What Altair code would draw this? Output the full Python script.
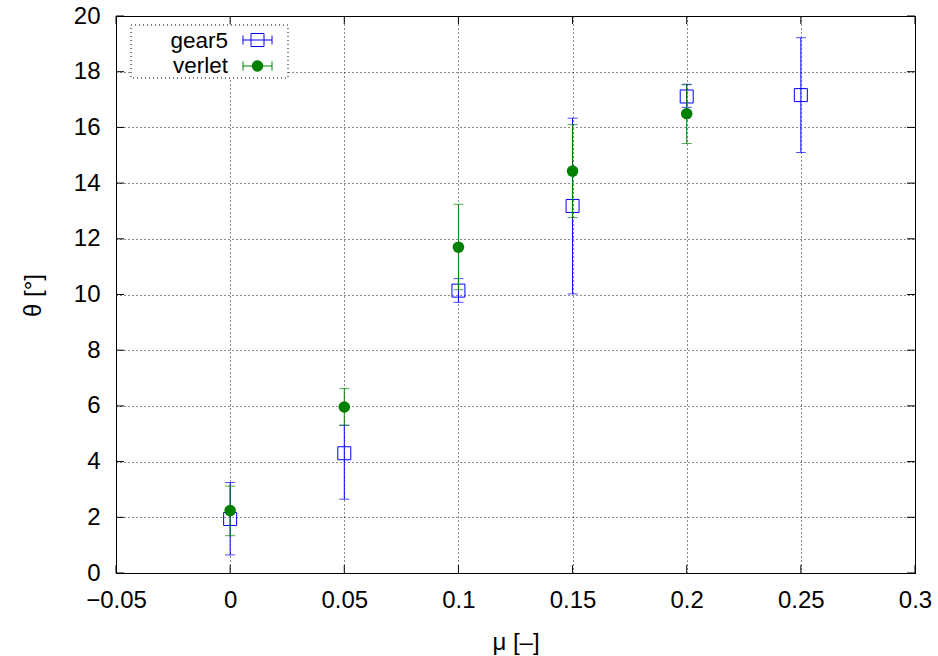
import altair as alt
import pandas as pd

# ---- data ----
mu_gear5 = [0.0, 0.05, 0.10, 0.15, 0.20, 0.25]
theta_gear5 = [1.94, 4.30, 10.14, 13.18, 17.11, 17.16]
low_gear5 = [0.65, 2.65, 9.72, 10.02, 16.72, 15.10]
high_gear5 = [3.25, 5.30, 10.57, 16.33, 17.55, 19.22]

mu_verlet = [0.0, 0.05, 0.10, 0.15, 0.20]
theta_verlet = [2.24, 5.96, 11.70, 14.43, 16.49]
low_verlet = [1.34, 5.31, 10.17, 12.76, 15.42]
high_verlet = [3.12, 6.62, 13.24, 16.10, 17.53]

x_ticks = [-0.05, 0.0, 0.05, 0.10, 0.15, 0.20, 0.25, 0.30]
y_ticks = [0, 2, 4, 6, 8, 10, 12, 14, 16, 18, 20]

BLUE = "#0000ff"
GREEN = "#008000"
FONT = "Liberation Sans"
FS = 24
LFS = 22.5
W, H = 799, 557

g5 = pd.DataFrame({"mu": mu_gear5, "theta": theta_gear5, "lo": low_gear5, "hi": high_gear5})
vl = pd.DataFrame({"mu": mu_verlet, "theta": theta_verlet, "lo": low_verlet, "hi": high_verlet})
xt = pd.DataFrame({"v": x_ticks})
yt = pd.DataFrame({"v": y_ticks})
one = pd.DataFrame({"a": [0]})

xscale = alt.Scale(domain=[-0.05, 0.3], nice=False, zero=False)
yscale = alt.Scale(domain=[0, 20], nice=False, zero=False)

X = alt.X("mu:Q", scale=xscale, axis=alt.Axis(
    values=x_ticks, format=".2~f", title="μ [–]", titleY=76, titleBaseline="alphabetic"))
Y = alt.Y("theta:Q", scale=yscale, axis=alt.Axis(
    values=y_ticks, title="θ [°]", titleX=-83, titleY=279, titleBaseline="middle"))


def series(df, color, point):
    base = alt.Chart(df)
    bar = base.mark_rule(color=color, strokeWidth=1).encode(
        x=alt.X("mu:Q", scale=xscale), y=alt.Y("lo:Q", scale=yscale), y2="hi:Q")
    cap_lo = base.mark_tick(color=color, size=10, thickness=1, orient="horizontal").encode(
        x=alt.X("mu:Q", scale=xscale), y=alt.Y("lo:Q", scale=yscale))
    cap_hi = base.mark_tick(color=color, size=10, thickness=1, orient="horizontal").encode(
        x=alt.X("mu:Q", scale=xscale), y=alt.Y("hi:Q", scale=yscale))
    pts = base.mark_point(**point).encode(x=X, y=Y)
    return [bar, cap_lo, cap_hi, pts]


blue_layers = series(g5, BLUE, dict(shape="square", size=169, filled=False,
                                    color=BLUE, strokeWidth=1, opacity=1))
green_layers = series(vl, GREEN, dict(shape="circle", size=133, filled=True,
                                      color=GREEN, opacity=1))

# inward ticks on all four sides
tick_layers = [
    alt.Chart(xt).mark_rule(color="black").encode(
        x=alt.X("v:Q", scale=xscale), y=alt.value(H), y2=alt.value(H - 8)),
    alt.Chart(xt).mark_rule(color="black").encode(
        x=alt.X("v:Q", scale=xscale), y=alt.value(0), y2=alt.value(8)),
    alt.Chart(yt).mark_rule(color="black").encode(
        y=alt.Y("v:Q", scale=yscale), x=alt.value(0), x2=alt.value(8)),
    alt.Chart(yt).mark_rule(color="black").encode(
        y=alt.Y("v:Q", scale=yscale), x=alt.value(W), x2=alt.value(W - 8)),
]

# legend (gnuplot style: label on the left, sample on the right)
lx0, lx1, lxc = 127, 156, 141.5
ly1, ly2 = 24, 50
legend_layers = [
    alt.Chart(one).mark_rect(fill="white", stroke="black", strokeWidth=1,
                             strokeDash=[1, 3]).encode(
        x=alt.value(15), x2=alt.value(172), y=alt.value(9), y2=alt.value(62)),
    alt.Chart(one).mark_text(text="gear5", align="right", baseline="alphabetic",
                             font=FONT, fontSize=LFS, color="black").encode(
        x=alt.value(112), y=alt.value(32)),
    alt.Chart(one).mark_text(text="verlet", align="right", baseline="alphabetic",
                             font=FONT, fontSize=LFS, color="black").encode(
        x=alt.value(112), y=alt.value(56.5)),
]
for yy, col in [(ly1, BLUE), (ly2, GREEN)]:
    legend_layers += [
        alt.Chart(one).mark_rule(color=col).encode(
            x=alt.value(lx0), x2=alt.value(lx1), y=alt.value(yy)),
        alt.Chart(one).mark_rule(color=col).encode(
            x=alt.value(lx0), y=alt.value(yy - 4.5), y2=alt.value(yy + 4.5)),
        alt.Chart(one).mark_rule(color=col).encode(
            x=alt.value(lx1), y=alt.value(yy - 4.5), y2=alt.value(yy + 4.5)),
    ]
legend_layers += [
    alt.Chart(one).mark_point(shape="square", size=169, filled=False, color=BLUE,
                              strokeWidth=1, opacity=1).encode(
        x=alt.value(lxc), y=alt.value(ly1)),
    alt.Chart(one).mark_circle(size=133, color=GREEN, opacity=1).encode(
        x=alt.value(lxc), y=alt.value(ly2)),
]

chart = alt.layer(*tick_layers, *blue_layers, *green_layers, *legend_layers).properties(
    width=W, height=H,
    autosize=alt.AutoSizeParams(type="none"),
    padding={"left": 116, "top": 16, "right": 23, "bottom": 83},
    background="white",
).configure_view(
    stroke="black", strokeWidth=1
).configure_axis(
    grid=True, gridColor="black", gridDash=[1, 3], gridWidth=1, gridOpacity=0.9,
    ticks=False, domain=False,
    labelFont=FONT, labelFontSize=FS, labelColor="black",
    titleFont=FONT, titleFontSize=FS, titleFontWeight="normal", titleColor="black",
    labelFlush=False, labelOverlap=False,
).configure_axisX(labelPadding=15).configure_axisY(labelPadding=16)

chart.save("out.html", embed_options={"renderer": "svg", "actions": False})
